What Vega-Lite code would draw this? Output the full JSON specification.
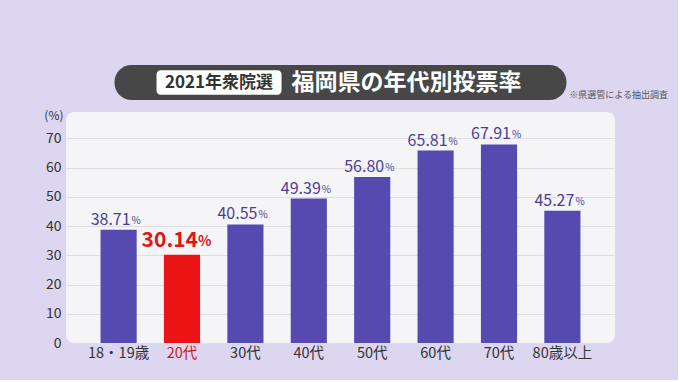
{
  "$schema": "https://vega.github.io/schema/vega-lite/v6.json",
  "background": "#dcd6f0",
  "padding": {"left": 43, "top": 65, "right": 10, "bottom": 20},
  "config": {"font": "Noto Sans CJK JP", "view": {"stroke": null}},
  "bounds": "flush",
  "center": true,
  "spacing": 12,
  "vconcat": [
    {
      "width": 452,
      "height": 35,
      "view": {"fill": "#474747", "cornerRadius": 17, "stroke": null},
      "data": {"values": [
        {"part": "tag", "row": "r", "text": "2021年衆院選"},
        {"part": "main", "row": "r", "text": "福岡県の年代別投票率"}
      ]},
      "encoding": {
        "x": {"field": "part", "type": "nominal", "sort": ["tag", "main"], "axis": null,
              "scale": {"paddingInner": 0.0741, "paddingOuter": 0.711, "align": 0.219}},
        "y": {"field": "row", "type": "nominal", "axis": null,
              "scale": {"paddingInner": 0.3, "paddingOuter": 0.15}}
      },
      "layer": [
        {
          "transform": [{"filter": "datum.part === 'tag'"}],
          "mark": {"type": "bar", "fill": "#ffffff", "cornerRadius": 4}
        },
        {
          "transform": [{"filter": "datum.part === 'tag'"}],
          "mark": {"type": "text", "fill": "#333333", "fontSize": 17, "fontWeight": "bold", "align": "center", "baseline": "middle"},
          "encoding": {"text": {"field": "text"}}
        },
        {
          "transform": [{"filter": "datum.part === 'main'"}],
          "mark": {"type": "text", "fill": "#ffffff", "fontSize": 23, "fontWeight": "bold", "align": "left", "baseline": "middle"},
          "encoding": {
            "x": {"field": "part", "type": "nominal", "bandPosition": 0, "sort": ["tag", "main"], "axis": null},
            "text": {"field": "text"}
          }
        }
      ]
    },
    {
      "width": 549,
      "height": 231,
      "view": {"fill": "#f5f5f8", "cornerRadius": 8, "stroke": null},
      "title": {"text": "※県選管による抽出調査", "fontSize": 9, "fontWeight": "normal", "color": "#555555", "anchor": "end", "dx": 53, "offset": 9},
      "data": {"values": [
        {"age": "18・19歳", "rate": 38.71},
        {"age": "20代", "rate": 30.14},
        {"age": "30代", "rate": 40.55},
        {"age": "40代", "rate": 49.39},
        {"age": "50代", "rate": 56.80},
        {"age": "60代", "rate": 65.81},
        {"age": "70代", "rate": 67.91},
        {"age": "80歳以上", "rate": 45.27}
      ]},
      "encoding": {
        "x": {"field": "age", "type": "nominal", "sort": null, "title": null,
              "scale": {"paddingInner": 0.43, "paddingOuter": 0.545},
              "axis": {"labelAngle": 0, "labelFontSize": 14.5, "labelPadding": 3, "ticks": false, "domain": false,
                       "labelColor": {"condition": {"test": "datum.value === '20代'", "value": "#d01818"}, "value": "#333333"}}},
        "y": {"field": "rate", "type": "quantitative",
              "scale": {"domain": [0, 79], "nice": false},
              "axis": {"values": [0, 10, 20, 30, 40, 50, 60, 70], "title": "(%)", "titleAngle": 0, "titleAlign": "right",
                       "titleBaseline": "middle", "titleX": -3, "titleY": 3, "titleFontSize": 12, "titleFontWeight": "normal",
                       "titleColor": "#333333", "labelFontSize": 14, "labelColor": "#333333", "labelPadding": 5,
                       "ticks": false, "domain": false, "gridColor": "#dedee2", "gridWidth": 1}}
      },
      "layer": [
        {
          "mark": {"type": "bar"},
          "encoding": {
            "color": {"condition": {"test": "datum.age === '20代'", "value": "#ea1414"}, "value": "#5649b0"}
          }
        },
        {
          "transform": [{"filter": "datum.age !== '20代'"}],
          "mark": {"type": "text", "align": "right", "baseline": "bottom", "dx": 12, "dy": -2, "fontSize": 16, "fill": "#4a3f96"},
          "encoding": {"text": {"field": "rate", "type": "quantitative", "format": ".2f"}}
        },
        {
          "transform": [{"filter": "datum.age !== '20代'"}],
          "mark": {"type": "text", "align": "left", "baseline": "bottom", "dx": 13, "dy": -4, "fontSize": 10, "fill": "#4a3f96", "text": "%"}
        },
        {
          "transform": [{"filter": "datum.age === '20代'"}],
          "mark": {"type": "text", "align": "right", "baseline": "bottom", "dx": 16, "dy": -4, "fontSize": 21, "fontWeight": "bold", "fill": "#e01515"},
          "encoding": {"text": {"field": "rate", "type": "quantitative", "format": ".2f"}}
        },
        {
          "transform": [{"filter": "datum.age === '20代'"}],
          "mark": {"type": "text", "align": "left", "baseline": "bottom", "dx": 16, "dy": -6, "fontSize": 14, "fontWeight": "bold", "fill": "#e01515", "text": "%"}
        }
      ]
    }
  ]
}
